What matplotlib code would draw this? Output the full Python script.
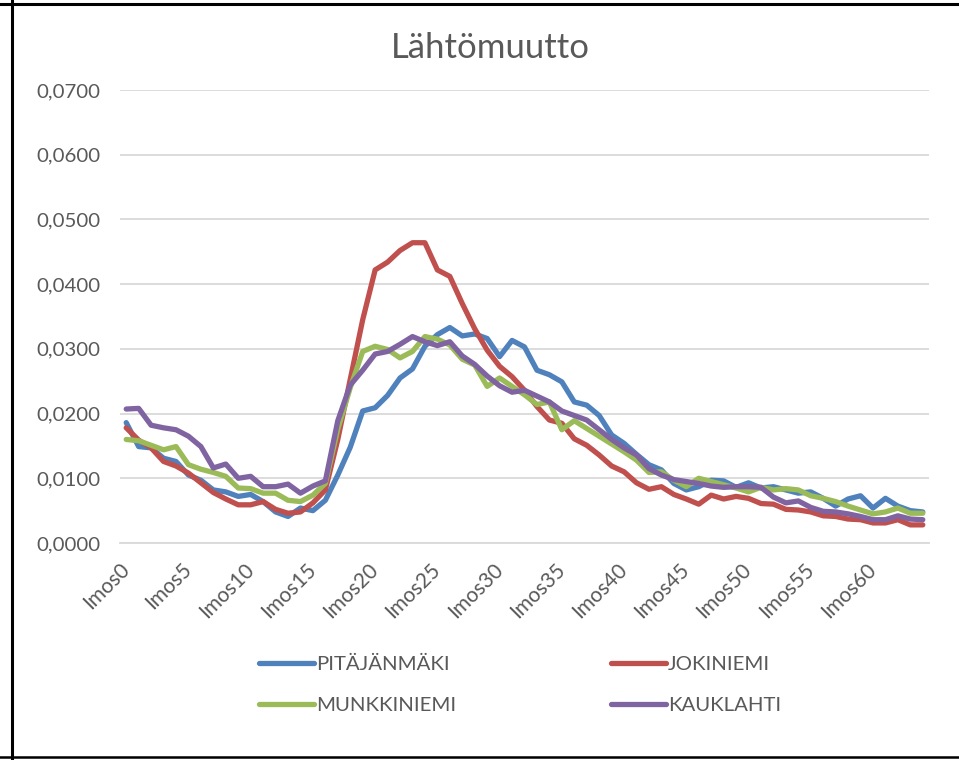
import matplotlib
matplotlib.use("Agg")
import matplotlib.pyplot as plt
from matplotlib.lines import Line2D

plt.rcParams['font.family'] = ['Lato', 'DejaVu Sans']

categories = ["Imos%d" % i for i in range(65)]

pitajanmaki = [0.0186, 0.0149, 0.0147, 0.0131, 0.0126, 0.0105, 0.0097, 0.0082, 0.0079, 0.0072,
               0.0075, 0.0064, 0.0048, 0.0041, 0.0054, 0.0050, 0.0066, 0.0105, 0.0148, 0.0204,
               0.0209, 0.0228, 0.0255, 0.0269, 0.0304, 0.0322, 0.0333, 0.0320, 0.0323, 0.0316,
               0.0288, 0.0313, 0.0303, 0.0267, 0.0260, 0.0249, 0.0218, 0.0213, 0.0197, 0.0167,
               0.0154, 0.0137, 0.0121, 0.0113, 0.0092, 0.0082, 0.0087, 0.0097, 0.0096, 0.0086,
               0.0093, 0.0085, 0.0087, 0.0082, 0.0077, 0.0079, 0.0069, 0.0057, 0.0068, 0.0073,
               0.0054, 0.0069, 0.0057, 0.0050, 0.0048]

jokiniemi = [0.0178, 0.0159, 0.0147, 0.0126, 0.0119, 0.0108, 0.0093, 0.0078, 0.0068, 0.0059,
             0.0059, 0.0064, 0.0052, 0.0046, 0.0048, 0.0062, 0.0082, 0.0160, 0.0253, 0.0345,
             0.0422, 0.0434, 0.0452, 0.0464, 0.0464, 0.0422, 0.0412, 0.0370, 0.0331, 0.0298,
             0.0273, 0.0257, 0.0236, 0.0211, 0.0190, 0.0185, 0.0161, 0.0151, 0.0136, 0.0119,
             0.0110, 0.0093, 0.0083, 0.0087, 0.0075, 0.0068, 0.0060, 0.0074, 0.0068, 0.0072,
             0.0069, 0.0061, 0.0060, 0.0052, 0.0051, 0.0048, 0.0042, 0.0041, 0.0037, 0.0036,
             0.0031, 0.0031, 0.0036, 0.0028, 0.0028]

munkkiniemi = [0.0160, 0.0158, 0.0151, 0.0144, 0.0149, 0.0121, 0.0114, 0.0109, 0.0103, 0.0085,
               0.0084, 0.0077, 0.0077, 0.0066, 0.0064, 0.0074, 0.0092, 0.0176, 0.0240, 0.0296,
               0.0304, 0.0299, 0.0286, 0.0296, 0.0319, 0.0315, 0.0306, 0.0284, 0.0275, 0.0242,
               0.0255, 0.0242, 0.0229, 0.0214, 0.0218, 0.0175, 0.0189, 0.0177, 0.0165, 0.0153,
               0.0141, 0.0128, 0.0109, 0.0110, 0.0097, 0.0087, 0.0100, 0.0095, 0.0090, 0.0085,
               0.0079, 0.0086, 0.0082, 0.0084, 0.0082, 0.0073, 0.0069, 0.0064, 0.0057, 0.0051,
               0.0045, 0.0048, 0.0054, 0.0046, 0.0046]

kauklahti = [0.0207, 0.0208, 0.0182, 0.0178, 0.0175, 0.0165, 0.0149, 0.0116, 0.0122, 0.0100,
             0.0103, 0.0087, 0.0087, 0.0091, 0.0077, 0.0088, 0.0096, 0.0189, 0.0244, 0.0267,
             0.0292, 0.0296, 0.0307, 0.0319, 0.0311, 0.0305, 0.0311, 0.0289, 0.0276, 0.0258,
             0.0243, 0.0233, 0.0236, 0.0227, 0.0218, 0.0204, 0.0197, 0.0190, 0.0175, 0.0160,
             0.0147, 0.0136, 0.0115, 0.0105, 0.0098, 0.0095, 0.0092, 0.0088, 0.0086, 0.0087,
             0.0087, 0.0086, 0.0071, 0.0062, 0.0065, 0.0055, 0.0049, 0.0048, 0.0045, 0.0041,
             0.0036, 0.0036, 0.0042, 0.0037, 0.0036]

series_names = ["PITÄJÄNMÄKI", "JOKINIEMI", "MUNKKINIEMI", "KAUKLAHTI"]
series_values = [pitajanmaki, jokiniemi, munkkiniemi, kauklahti]
series_colors = ["#4F81BD", "#C0504D", "#9BBB59", "#8064A2"]

y_ticks = [0.0, 0.01, 0.02, 0.03, 0.04, 0.05, 0.06, 0.07]
y_tick_labels = ["0,0000", "0,0100", "0,0200", "0,0300", "0,0400", "0,0500", "0,0600", "0,0700"]

title = "Lähtömuutto"
text_color = "#595959"
grid_color = "#D9D9D9"

fig = plt.figure(figsize=(9.59, 7.6), dpi=100)
ax = fig.add_axes([120 / 959, 1 - 543 / 760, (929 - 120) / 959, (543 - 90) / 760])

x = list(range(len(categories)))
lines = []
for name, vals, col in zip(series_names, series_values, series_colors):
    ln, = ax.plot(x, vals, color=col, lw=3.8, solid_joinstyle='round',
                  solid_capstyle='round', label=name, zorder=3)
    lines.append(ln)

ax.set_xlim(-0.5, len(categories) - 0.5)
ax.set_ylim(0, 0.07)
ax.set_yticks(y_ticks)
ax.set_yticklabels(y_tick_labels)
ax.set_xticks(x[::5])
ax.set_xticklabels(categories[::5], rotation=45, ha='right', va='center',
                   rotation_mode='anchor')
ax.tick_params(axis='y', length=0, pad=14, labelsize=14.7, labelcolor=text_color)
ax.tick_params(axis='x', length=0, pad=17, labelsize=15, labelcolor=text_color)
ax.grid(axis='y', color=grid_color, lw=1.3, zorder=0)
ax.set_axisbelow(True)
for s in ['top', 'right', 'left']:
    ax.spines[s].set_visible(False)
ax.spines['bottom'].set_color(grid_color)
ax.spines['bottom'].set_linewidth(1.3)

fig.text(490 / 959, 1 - 48 / 760, title, ha='center', va='center',
         fontsize=25, color=text_color)

order = [0, 2, 1, 3]
leg = fig.legend([lines[i] for i in order], [series_names[i] for i in order],
                 loc='center', bbox_to_anchor=(520 / 959, 1 - 685 / 760),
                 ncol=2, frameon=False, fontsize=14.7, handlelength=2.7,
                 handletextpad=0.1, columnspacing=7.6, labelspacing=1.17)
for t in leg.get_texts():
    t.set_color(text_color)

# sheet cell borders around the chart
fig.add_artist(Line2D([0, 1], [1 - 4 / 760, 1 - 4 / 760], color='black', lw=2.2,
                      transform=fig.transFigure))
fig.add_artist(Line2D([0, 1], [1 - 757 / 760, 1 - 757 / 760], color='black', lw=1.8,
                      transform=fig.transFigure))
fig.add_artist(Line2D([12 / 959, 12 / 959], [0, 1], color='black', lw=2.2,
                      transform=fig.transFigure))

fig.savefig("out.png", dpi=100)
